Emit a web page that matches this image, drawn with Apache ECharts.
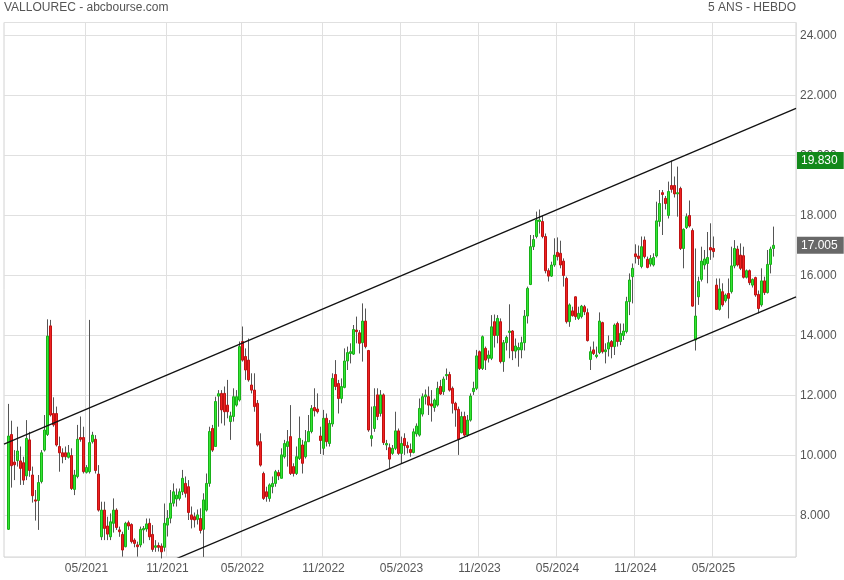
<!DOCTYPE html>
<html>
<head>
<meta charset="utf-8">
<script src="https://cdn.jsdelivr.net/npm/echarts@6/dist/echarts.min.js"></script>
<style>html,body{margin:0;padding:0;background:#fff}#c{width:844px;height:580px}</style>
</head>
<body>
<div id="c"></div>
<script>
// ---- data ----
const titleLeft = 'VALLOUREC - abcbourse.com';
const titleRight = '5 ANS - HEBDO';
const firstWeekStart = '2020-10-19';   // Monday of the first category slot
const weekCount = 264;                 // category slots on the axis
const dataOffset = 1;                  // first candle sits in slot 1
const xTickLabels = ['05/2021','11/2021','05/2022','11/2022','05/2023','11/2023','05/2024','11/2024','05/2025'];
const yMin = 6.617, yMax = 24.433;

const opens = [
 7.54,10.70,9.78,9.83,9.82,9.76,9.32,10.52,9.35,8.52,
 8.50,9.13,10.18,10.70,14.32,11.40,11.40,10.30,10.09,10.09,
 9.94,10.00,8.87,9.30,10.60,10.60,9.44,9.46,10.46,10.54,
 9.38,7.29,8.18,7.65,7.29,7.74,8.18,7.52,7.37,6.96,
 7.76,7.70,7.18,7.02,7.02,7.52,7.55,7.74,7.37,6.94,
 7.00,6.98,6.94,7.68,7.91,8.41,8.55,8.57,8.79,9.07,
 8.96,8.02,7.96,7.87,7.90,7.54,8.18,9.07,10.90,10.30,
 11.98,12.07,12.07,11.68,11.13,11.30,11.68,11.85,13.80,13.30,
 13.18,12.35,12.18,11.74,10.46,9.40,8.79,8.57,8.96,9.07,
 9.43,9.24,9.96,10.30,10.63,9.63,9.40,9.90,10.35,9.96,
 10.46,10.80,11.60,11.55,10.65,10.24,11.24,10.40,11.05,12.70,
 12.40,11.90,12.27,13.15,13.40,13.38,14.18,14.09,13.76,14.48,
 13.50,10.57,10.90,12.02,11.40,12.02,10.35,10.26,10.07,10.24,
 10.82,10.07,10.57,10.33,10.20,10.10,10.72,10.68,11.38,11.96,
 11.96,11.72,11.60,11.68,12.30,12.13,12.66,12.70,12.24,11.74,
 11.54,10.76,11.30,10.68,11.18,12.13,12.24,13.46,12.90,13.57,
 13.24,13.24,14.46,14.00,14.46,13.13,13.76,14.10,14.15,13.48,
 13.52,13.52,13.76,14.65,15.70,16.96,17.30,17.80,17.80,17.30,
 16.16,15.98,16.35,16.77,16.74,16.48,15.90,14.46,14.82,15.29,
 14.57,14.63,14.96,14.76,13.20,13.52,13.30,13.43,14.43,13.46,
 13.55,13.80,13.63,14.40,13.80,14.00,14.13,15.13,15.96,16.72,
 16.65,16.30,17.18,16.54,16.38,16.35,16.65,17.80,18.76,18.57,
 18.00,19.00,19.00,18.72,18.90,16.90,17.60,18.00,17.50,13.85,
 15.29,15.87,16.35,16.40,16.93,16.90,15.68,14.87,15.46,15.16,
 15.40,15.46,16.32,16.88,16.68,16.66,15.94,16.16,15.68,15.93,
 15.37,15.02,15.82,15.43,16.37,16.90
];
const closes = [
 10.65,9.66,9.69,10.15,9.57,9.18,10.57,9.50,8.66,8.48,
 9.10,10.09,10.85,13.98,11.35,11.02,10.35,10.09,9.96,9.96,
 10.09,8.90,9.35,10.54,10.54,9.46,9.60,10.43,10.68,9.50,
 8.18,8.18,7.57,7.38,7.79,8.18,7.60,7.46,6.85,7.74,
 7.65,7.13,7.07,6.96,7.54,7.57,7.72,7.29,6.87,6.99,
 6.94,6.79,7.74,7.91,8.41,8.79,8.68,8.79,9.24,8.74,
 8.10,7.87,7.85,8.02,7.50,8.52,9.07,10.80,10.18,11.80,
 12.06,11.52,11.46,11.46,11.32,11.96,11.96,13.63,13.18,12.85,
 12.52,12.18,11.63,10.35,9.68,8.57,8.63,9.02,9.07,9.46,
 9.32,10.02,10.40,10.46,9.40,9.40,9.96,10.57,9.74,10.46,
 10.80,11.57,11.49,11.46,10.50,11.24,10.46,11.07,12.57,12.30,
 11.90,12.30,13.15,13.43,13.46,14.20,14.13,13.74,14.48,13.63,
 10.85,10.66,11.63,11.30,12.02,10.43,10.40,9.88,10.24,10.82,
 10.07,10.40,10.33,10.26,10.10,10.79,10.98,11.57,11.96,12.02,
 11.68,11.65,11.85,12.24,12.05,12.55,12.70,12.18,11.74,11.52,
 10.54,11.30,10.68,11.18,11.98,12.24,13.32,12.90,13.96,13.18,
 13.35,14.29,14.00,14.57,13.13,13.76,13.94,14.15,13.49,13.65,
 13.60,13.76,14.65,15.57,16.96,17.20,17.85,17.85,17.30,16.16,
 15.98,16.35,16.68,16.63,16.35,16.00,14.46,15.02,14.66,14.63,
 14.74,14.98,14.79,13.83,13.46,13.40,13.35,14.48,13.46,13.52,
 13.76,13.63,14.35,13.80,14.07,14.15,15.13,15.85,16.24,16.63,
 16.57,16.96,16.63,16.27,16.57,16.60,17.82,18.40,18.70,18.40,
 18.80,18.87,18.72,18.76,16.90,17.54,17.96,17.65,14.98,14.65,
 15.80,16.48,16.55,16.60,16.85,16.80,14.87,15.55,15.02,15.35,
 15.24,16.32,16.90,16.35,16.24,15.94,16.16,15.76,15.87,15.35,
 14.90,15.82,15.43,16.37,16.88,17.005
];
const lows = [
 7.52,8.93,9.18,9.63,9.02,9.02,9.18,9.29,8.43,7.83,
 7.52,9.07,10.13,10.65,11.30,10.96,10.30,9.46,9.74,9.85,
 9.90,8.85,8.68,9.24,10.46,9.40,9.40,9.40,10.40,9.40,
 8.13,7.18,7.18,7.18,7.18,7.43,7.52,7.29,6.63,6.94,
 7.52,7.07,6.94,6.63,6.94,7.07,7.46,7.18,6.79,6.79,
 6.80,6.57,6.80,7.30,7.74,8.30,8.30,8.50,8.68,8.60,
 7.85,7.57,7.60,7.70,7.40,6.62,8.13,8.96,10.12,10.30,
 10.96,11.07,11.00,11.24,10.52,11.13,11.63,11.80,13.13,12.52,
 12.46,12.07,11.46,10.30,9.63,8.52,8.46,8.46,8.74,8.96,
 9.18,9.24,9.90,9.63,9.35,9.30,9.35,9.85,9.40,9.90,
 10.46,10.74,11.30,11.40,10.05,10.02,10.30,10.30,10.96,12.18,
 11.40,11.74,12.24,12.85,13.07,13.35,13.74,13.40,13.13,13.57,
 10.79,10.30,10.79,11.18,11.30,10.35,10.18,9.57,10.02,10.18,
 10.02,9.74,10.02,10.07,9.96,10.07,10.63,10.63,11.30,11.70,
 11.35,11.13,11.46,11.63,12.02,12.02,12.52,12.13,11.40,10.96,
 10.02,10.74,10.63,10.63,11.13,12.02,12.18,12.85,12.85,12.85,
 13.10,13.18,13.60,13.74,13.07,12.79,13.50,13.24,13.18,13.24,
 12.96,13.24,13.50,14.40,15.68,16.85,17.24,17.40,17.24,16.07,
 15.80,15.95,16.29,16.50,16.24,15.63,14.40,14.29,14.63,14.52,
 14.52,14.57,14.68,13.80,12.85,13.35,13.24,13.38,13.40,13.07,
 13.30,13.24,13.35,13.63,13.68,13.85,14.07,14.68,15.07,16.40,
 16.35,16.24,16.57,16.24,16.30,16.30,16.60,17.63,17.35,18.20,
 17.90,18.76,18.60,17.96,16.85,16.24,17.55,17.60,14.96,13.50,
 15.02,15.80,16.20,15.74,16.52,16.60,14.85,14.83,14.96,15.10,
 14.57,15.40,16.24,16.30,16.18,15.90,15.90,15.68,15.60,15.29,
 14.74,14.96,15.35,15.40,16.07,16.63
];
const highs = [
 11.72,11.16,10.18,10.96,10.30,9.96,11.18,10.79,9.63,8.85,
 9.35,10.18,11.35,14.54,14.52,11.94,11.63,10.63,10.24,10.30,
 10.35,10.24,9.52,11.02,11.30,10.96,9.68,14.52,10.79,10.68,
 9.68,8.46,8.46,7.96,8.07,8.57,8.24,7.63,7.46,7.79,
 7.83,7.74,7.24,7.13,7.63,7.65,7.90,7.90,7.68,7.18,
 7.10,7.07,8.40,8.18,8.85,9.07,8.90,8.90,9.52,9.30,
 9.18,8.30,8.10,8.20,8.24,8.74,9.40,10.96,11.02,11.96,
 12.18,12.18,12.30,12.52,11.46,12.24,12.18,13.80,14.30,13.57,
 13.90,12.74,12.74,11.85,10.74,9.46,8.96,9.07,9.30,9.52,
 9.52,10.24,10.52,10.85,11.68,9.74,10.30,11.30,10.52,10.85,
 11.35,11.68,12.24,12.07,10.96,11.52,11.40,11.18,12.74,13.18,
 12.52,12.57,13.57,13.63,13.74,14.35,14.63,14.18,15.07,14.90,
 13.52,11.63,12.24,12.24,12.18,12.07,10.52,10.40,10.35,11.46,
 10.90,10.63,10.74,10.46,10.40,10.90,11.07,11.90,12.07,12.20,
 12.30,12.18,11.90,12.46,12.52,12.63,12.90,12.79,12.30,11.79,
 11.63,11.46,11.46,11.35,12.07,12.46,13.52,13.50,14.00,13.63,
 13.50,14.68,14.70,14.68,14.57,13.85,14.00,15.04,14.18,13.90,
 13.76,13.96,14.85,15.63,17.35,17.35,18.13,18.20,18.00,17.40,
 16.24,16.46,17.24,17.27,17.16,16.57,15.96,15.07,14.96,15.30,
 14.96,15.02,15.02,14.90,13.63,13.80,13.63,14.77,14.46,13.74,
 14.00,13.85,14.40,14.46,14.40,14.40,15.29,16.07,16.40,17.04,
 17.00,17.30,17.30,16.63,16.68,16.74,18.46,18.85,18.85,18.65,
 19.13,19.83,19.30,19.63,18.96,17.57,18.07,18.50,17.57,16.90,
 15.96,16.96,16.85,17.45,17.74,17.30,15.90,15.90,15.74,15.40,
 15.90,16.96,17.18,16.99,17.07,16.96,16.20,16.20,15.90,15.96,
 15.50,16.24,15.96,16.85,16.96,17.63
];
// channel lines: price at the left edge and at the right edge of the plot
const upperChannel = [10.38, 21.57];
const lowerChannel = [4.13, 15.29];

// ---- build ----
const DAY = 86400000;
const t0 = Date.parse(firstWeekStart + 'T00:00:00Z');
const weekStarts = [];
for (let i = 0; i < weekCount; i++) weekStarts.push(new Date(t0 + i * 7 * DAY).toISOString().slice(0, 10));

function tickLabel(ws) {
  const sun = new Date(Date.parse(ws + 'T00:00:00Z') + 6 * DAY);
  if (sun.getUTCDate() > 7) return '';
  const s = String(sun.getUTCMonth() + 1).padStart(2, '0') + '/' + sun.getUTCFullYear();
  return xTickLabels.indexOf(s) >= 0 ? s : '';
}
const tickAt = (idx, val) => tickLabel(val) !== '';

const empty = ['-', '-', '-', '-'];
const wickData = weekStarts.map(() => empty);
const bodyData = weekStarts.map(() => empty);
opens.forEach((o, i) => {
  const c = closes[i];
  wickData[i + dataOffset] = [o, c, Math.min(lows[i], o, c), Math.max(highs[i], o, c)];
  bodyData[i + dataOffset] = [o, c, Math.min(o, c), Math.max(o, c)];
});
const periodHigh = Math.max.apply(null, highs);
const lastClose = closes[closes.length - 1];

const UP_FILL = '#34e634', UP_EDGE = '#18b018';
const DOWN_FILL = '#f02222', DOWN_EDGE = '#bf1212';
const WICK = '#555555';
const FONT = '"Liberation Sans", Arial, sans-serif';

const chart = echarts.init(document.getElementById('c'), null, { renderer: 'canvas' });
chart.setOption({
  animation: false,
  backgroundColor: '#ffffff',
  textStyle: { fontFamily: FONT },
  title: [
    { text: titleLeft, left: 4, top: 2, padding: 0, textStyle: { fontSize: 12, fontWeight: 'normal', color: '#555', fontFamily: FONT } },
    { text: titleRight, right: 48, top: 2, padding: 0, textStyle: { fontSize: 12, fontWeight: 'normal', color: '#555', fontFamily: FONT } }
  ],
  grid: { left: 4, right: 48, top: 22.5, bottom: 23, show: true, borderColor: '#d2d2d2', borderWidth: 1, containLabel: false, outerBoundsMode: 'none' },
  xAxis: [
    {
      type: 'category', data: weekStarts, boundaryGap: true,
      axisLine: { show: false }, axisTick: { show: false, interval: tickAt },
      axisLabel: { interval: tickAt, formatter: v => tickLabel(v), color: '#555', fontSize: 12, margin: 6, fontFamily: FONT },
      splitLine: { show: true, interval: tickAt, lineStyle: { color: '#e0e0e0', width: 1 } }
    },
    { type: 'value', min: 0, max: 1, show: false, gridIndex: 0 }
  ],
  yAxis: {
    type: 'value', position: 'right', min: yMin, max: yMax, splitNumber: 9, scale: true,
    axisLine: { show: false }, axisTick: { show: false },
    axisLabel: {
      margin: 4, color: '#555', fontSize: 12, fontFamily: FONT,
      formatter: v => (Math.abs(v / 2 - Math.round(v / 2)) < 1e-6 ? v.toFixed(3) : '')
    },
    splitLine: { show: true, lineStyle: { color: '#e0e0e0', width: 1 } }
  },
  series: [
    {
      type: 'candlestick', name: 'wick', data: wickData, barWidth: 1, clip: false, silent: true, z: 2,
      itemStyle: { color: WICK, color0: WICK, borderColor: WICK, borderColor0: WICK, borderColorDoji: WICK, borderWidth: 1 }
    },
    {
      type: 'candlestick', name: 'body', data: bodyData, barWidth: 2, clip: false, silent: true, z: 3,
      itemStyle: { color: UP_FILL, color0: DOWN_FILL, borderColor: UP_EDGE, borderColor0: DOWN_EDGE, borderColorDoji: UP_EDGE, borderWidth: 1 },
      markLine: {
        silent: true, symbol: ['none', 'none'], animation: false, precision: 3,
        lineStyle: { color: 'rgba(0,0,0,0)', width: 0, type: 'solid' },
        label: {
          show: true, position: 'end', distance: 1, color: '#ffffff', opacity: 1,
          fontSize: 12, fontFamily: FONT, padding: [3, 6, 2, 4],
          formatter: p => Number(p.value).toFixed(3)
        },
        data: [
          { yAxis: periodHigh, label: { backgroundColor: '#12891a' } },
          { yAxis: lastClose, label: { backgroundColor: '#686868' } }
        ]
      }
    },
    {
      type: 'line', name: 'upper', xAxisIndex: 1, yAxisIndex: 0, clip: true, silent: true, z: 4,
      data: [[0, upperChannel[0]], [1, upperChannel[1]]], symbol: 'none',
      lineStyle: { color: '#111', width: 1.3 }
    },
    {
      type: 'line', name: 'lower', xAxisIndex: 1, yAxisIndex: 0, clip: true, silent: true, z: 4,
      data: [[0, lowerChannel[0]], [1, lowerChannel[1]]], symbol: 'none',
      lineStyle: { color: '#111', width: 1.3 }
    }
  ]
});
</script>
</body>
</html>
